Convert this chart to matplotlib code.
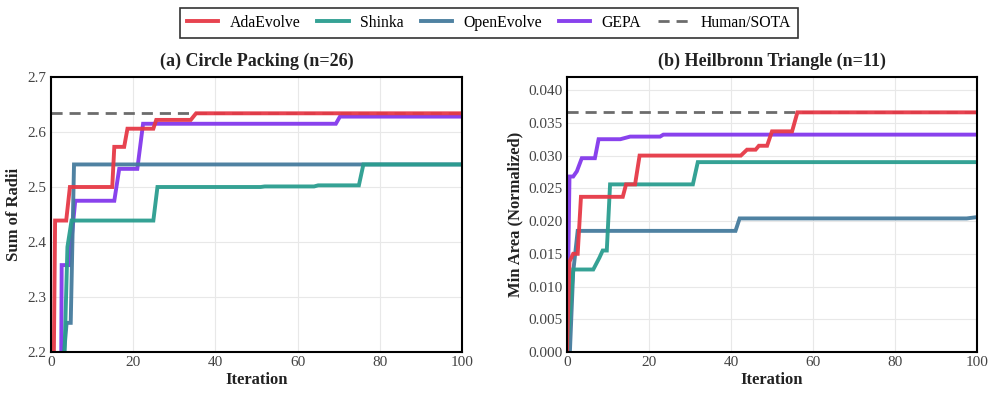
import numpy as np
import matplotlib.pyplot as plt

# ============================================================
# Daten (Stützstellen: Iteration, Bestwert bisher)
# ============================================================
methods = ["AdaEvolve", "Shinka", "OpenEvolve", "GEPA"]
colors = ["#e63946", "#2a9d8f", "#457b9d", "#8338ec"]

# (a) Circle Packing (n=26)
cp_ada_it = [0, 0.7, 1.0, 3.7, 4.6, 14.9, 15.4, 17.8, 18.6, 24.9, 25.6, 34.0, 35.3, 100]
cp_ada_val = [2.05, 2.20, 2.439, 2.439, 2.500, 2.500, 2.573, 2.573, 2.606, 2.606, 2.622, 2.622, 2.634, 2.634]
cp_shinka_it = [0, 3.3, 4.0, 5.0, 24.9, 25.9, 51.0, 52.0, 64.0, 65.0, 74.9, 76.0, 100]
cp_shinka_val = [2.0, 2.20, 2.391, 2.439, 2.439, 2.500, 2.500, 2.501, 2.501, 2.503, 2.503, 2.541, 2.541]
cp_open_it = [0, 3.2, 3.8, 4.8, 5.6, 100]
cp_open_val = [2.0, 2.20, 2.253, 2.253, 2.541, 2.541]
cp_gepa_it = [0, 2.5, 2.6, 4.4, 5.9, 15.4, 16.6, 21.0, 22.4, 69.3, 70.3, 100]
cp_gepa_val = [2.0, 2.20, 2.358, 2.358, 2.475, 2.475, 2.533, 2.533, 2.615, 2.615, 2.628, 2.628]
cp_sota = 2.635

# (b) Heilbronn Triangle (n=11)
hb_ada_it = [0, 0.6, 1.5, 2.6, 3.4, 13.6, 14.4, 16.6, 17.7, 42.4, 43.9, 46.0, 46.8, 48.8, 50.0, 54.9, 56.2, 100]
hb_ada_val = [0.0, 0.0138, 0.0150, 0.0150, 0.0237, 0.0237, 0.0256, 0.0256, 0.0300, 0.0300, 0.0309,
              0.0309, 0.0315, 0.0315, 0.0337, 0.0337, 0.0366, 0.0366]
hb_shinka_it = [0, 1.5, 6.4, 7.9, 8.7, 9.7, 10.5, 30.7, 31.9, 100]
hb_shinka_val = [0.0, 0.0126, 0.0126, 0.0144, 0.0155, 0.0155, 0.0256, 0.0256, 0.0290, 0.0290]
hb_open_it = [0, 0.7, 1.5, 2.6, 41.1, 42.1, 97.5, 100]
hb_open_val = [0.0, 0.0, 0.0122, 0.0185, 0.0185, 0.0204, 0.0204, 0.0206]
hb_gepa_it = [0, 0.6, 1.5, 2.4, 3.6, 6.8, 7.7, 13.0, 15.4, 22.7, 23.5, 100]
hb_gepa_val = [0.0, 0.0268, 0.0268, 0.0276, 0.0296, 0.0296, 0.0325, 0.0325, 0.0329, 0.0329, 0.0332, 0.0332]
hb_sota = 0.0366

cp_series = [(cp_ada_it, cp_ada_val), (cp_shinka_it, cp_shinka_val),
             (cp_open_it, cp_open_val), (cp_gepa_it, cp_gepa_val)]
hb_series = [(hb_ada_it, hb_ada_val), (hb_shinka_it, hb_shinka_val),
             (hb_open_it, hb_open_val), (hb_gepa_it, hb_gepa_val)]

# ============================================================
# Plot
# ============================================================
plt.rcParams["font.family"] = ["Liberation Serif", "DejaVu Serif"]

fig = plt.figure(figsize=(9.96, 3.98), dpi=100)
ax1 = fig.add_axes([0.0512, 0.1156, 0.4127, 0.6909])
ax2 = fig.add_axes([0.5693, 0.1156, 0.4116, 0.6909])


def draw_panel(ax, series, sota, title, ylabel, ylim, yticks, fmt):
    ax.axhline(sota, color="#6c6c6c", lw=2, ls=(0, (4, 2.5)), zorder=2, label="Human/SOTA")
    # Reihenfolge: GEPA, OpenEvolve, Shinka unten, AdaEvolve oben
    for idx in [3, 2, 1, 0]:
        it, val = series[idx]
        ax.plot(it, val, color=colors[idx], lw=2.8, alpha=0.95, zorder=3 + (3 - idx),
                label=methods[idx], solid_joinstyle="miter")
    ax.set_xlim(0, 100)
    ax.set_ylim(*ylim)
    ax.set_yticks(yticks)
    ax.set_yticklabels([fmt.format(v) for v in yticks])
    ax.set_xticks([0, 20, 40, 60, 80, 100])
    ax.grid(True, color="#e8e8e8", lw=0.8)
    ax.set_axisbelow(True)
    ax.set_title(title, fontsize=13, fontweight="bold", color="#222222", pad=8)
    ax.set_xlabel("Iteration", fontsize=12, fontweight="bold", color="#222222", labelpad=2)
    ax.set_ylabel(ylabel, fontsize=12, fontweight="bold", color="#222222", labelpad=4)
    ax.tick_params(labelsize=11, colors="#444444", length=0, pad=3)
    for s in ax.spines.values():
        s.set_color("black")
        s.set_linewidth(1.5)
        s.set_zorder(10)


draw_panel(ax1, cp_series, cp_sota, "(a) Circle Packing (n=26)", "Sum of Radii",
           (2.2, 2.7), [2.2, 2.3, 2.4, 2.5, 2.6, 2.7], "{:.1f}")
draw_panel(ax2, hb_series, hb_sota, "(b) Heilbronn Triangle (n=11)", "Min Area (Normalized)",
           (0.0, 0.042), [0.0, 0.005, 0.010, 0.015, 0.020, 0.025, 0.030, 0.035, 0.040], "{:.3f}")

handles, labels = ax1.get_legend_handles_labels()
order = [labels.index(m) for m in methods] + [labels.index("Human/SOTA")]
leg = fig.legend([handles[i] for i in order], [labels[i] for i in order],
                 loc="center", bbox_to_anchor=(0.491, 0.943), ncol=5, fontsize=11.3,
                 frameon=True, fancybox=False, edgecolor="black", handlelength=2.0,
                 handletextpad=0.7, columnspacing=1.1, borderpad=0.45)
leg.get_frame().set_linewidth(1.2)

fig.savefig("out.png", dpi=100)
